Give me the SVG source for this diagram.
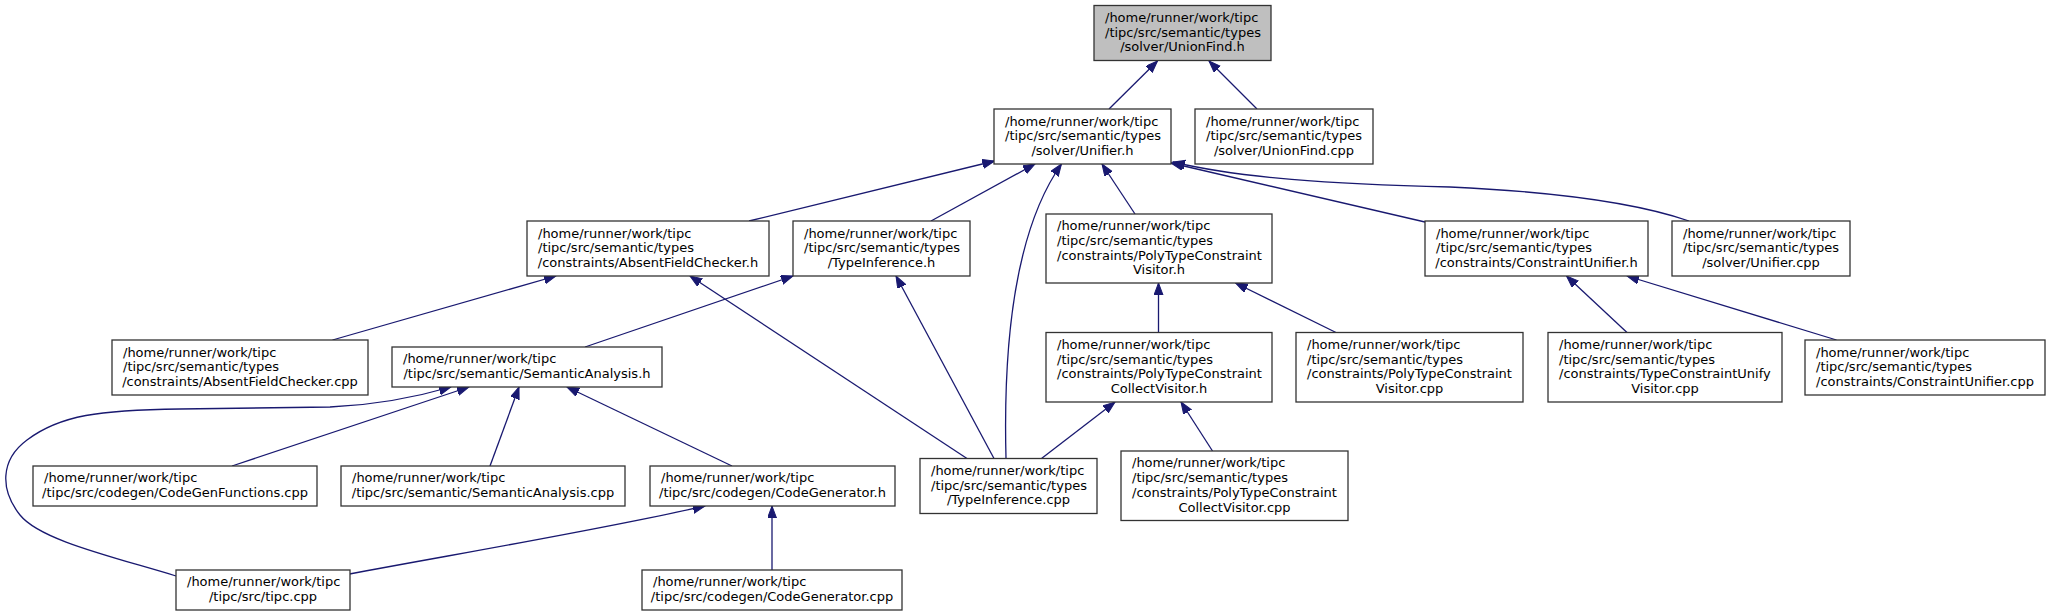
<svg xmlns="http://www.w3.org/2000/svg" width="2049" height="616" viewBox="0 0 2049 616">
<style>
.n rect{fill:#fff;stroke:#333;stroke-width:1.3}
.n.root rect{fill:#bfbfbf}
.n text{font-family:"DejaVu Sans","Liberation Sans",sans-serif;font-size:13px;fill:#000}
.e path{fill:none;stroke:#191970;stroke-width:1.3;marker-end:url(#ah)}
.c{text-anchor:middle}
</style>
<defs>
<marker id="ah" markerWidth="13" markerHeight="10" refX="12" refY="4.5" orient="auto" markerUnits="userSpaceOnUse"><path d="M0,0 L12,4.5 L0,9 z" fill="#191970" stroke="#191970" stroke-width="1"/></marker>
</defs>
<rect width="2049" height="616" fill="#fff"/>
<g id="edges" class="e">
<path d="M1109,109 L1157.5,61"/>
<path d="M1257,109 L1209,61"/>
<path d="M749,221 L994.5,161"/>
<path d="M931,221 L1035,164"/>
<path d="M1006,458.5 C1003,340 1015,230 1061.5,164"/>
<path d="M1135,214 L1102,164"/>
<path d="M1425,222 L1171,163"/>
<path d="M1689,221 C1640,204 1560,192 1450,187 C1330,184 1240,178 1173,162"/>
<path d="M332.5,340 L556,276"/>
<path d="M967,458.5 L690,276"/>
<path d="M585,347 L793,276"/>
<path d="M994,458.5 L896,276"/>
<path d="M1158.5,332.5 L1158.5,283"/>
<path d="M1336,332.5 L1235.5,283"/>
<path d="M1627,332.5 L1566.5,276"/>
<path d="M1836.5,340 L1627,276"/>
<path d="M232,466 L469,387"/>
<path d="M490,466 L519,387"/>
<path d="M732,466 L567,387"/>
<path d="M176,576 C110,556 40,540 20,515 C0,490 0,460 27,440 C60,415 100,410 180,409 L330,407 C380,405 420,396 451,387"/>
<path d="M1041.5,458.5 L1115,402"/>
<path d="M1212.5,451 L1181,402"/>
<path d="M349.5,574 C450,555 600,530 705,506"/>
<path d="M772,570 L772,506"/>
</g>
<g id="n1" class="n root"><rect x="1094" y="5.5" width="177" height="55"/><text x="1105"><tspan y="22">/home/runner/work/tipc</tspan><tspan x="1105" y="36.7">/tipc/src/semantic/types</tspan><tspan class="c" x="1182.5" y="51.4">/solver/UnionFind.h</tspan></text></g>
<g id="n2" class="n"><rect x="994" y="109" width="177" height="55"/><text x="1005"><tspan y="125.5">/home/runner/work/tipc</tspan><tspan x="1005" y="140.2">/tipc/src/semantic/types</tspan><tspan class="c" x="1082.5" y="154.9">/solver/Unifier.h</tspan></text></g>
<g id="n3" class="n"><rect x="1195" y="109" width="178" height="55"/><text x="1206"><tspan y="125.5">/home/runner/work/tipc</tspan><tspan x="1206" y="140.2">/tipc/src/semantic/types</tspan><tspan class="c" x="1284" y="154.9">/solver/UnionFind.cpp</tspan></text></g>
<g id="n4" class="n"><rect x="527" y="221" width="242" height="55"/><text x="538"><tspan y="237.5">/home/runner/work/tipc</tspan><tspan x="538" y="252.2">/tipc/src/semantic/types</tspan><tspan class="c" x="648" y="266.9">/constraints/AbsentFieldChecker.h</tspan></text></g>
<g id="n5" class="n"><rect x="793" y="221" width="177" height="55"/><text x="804"><tspan y="237.5">/home/runner/work/tipc</tspan><tspan x="804" y="252.2">/tipc/src/semantic/types</tspan><tspan class="c" x="881.5" y="266.9">/TypeInference.h</tspan></text></g>
<g id="n6" class="n"><rect x="1046" y="214" width="226" height="69"/><text x="1057"><tspan y="230.1">/home/runner/work/tipc</tspan><tspan x="1057" y="244.8">/tipc/src/semantic/types</tspan><tspan x="1057" y="259.5">/constraints/PolyTypeConstraint</tspan><tspan class="c" x="1159" y="274.2">Visitor.h</tspan></text></g>
<g id="n7" class="n"><rect x="1425" y="221" width="223" height="55"/><text x="1436"><tspan y="237.5">/home/runner/work/tipc</tspan><tspan x="1436" y="252.2">/tipc/src/semantic/types</tspan><tspan class="c" x="1536.5" y="266.9">/constraints/ConstraintUnifier.h</tspan></text></g>
<g id="n8" class="n"><rect x="1672" y="221" width="178" height="55"/><text x="1683"><tspan y="237.5">/home/runner/work/tipc</tspan><tspan x="1683" y="252.2">/tipc/src/semantic/types</tspan><tspan class="c" x="1761" y="266.9">/solver/Unifier.cpp</tspan></text></g>
<g id="n9" class="n"><rect x="112" y="340" width="256" height="55"/><text x="123"><tspan y="356.5">/home/runner/work/tipc</tspan><tspan x="123" y="371.2">/tipc/src/semantic/types</tspan><tspan class="c" x="240" y="385.9">/constraints/AbsentFieldChecker.cpp</tspan></text></g>
<g id="n10" class="n"><rect x="392" y="347" width="270" height="40"/><text x="403"><tspan y="363.3">/home/runner/work/tipc</tspan><tspan class="c" x="527" y="378">/tipc/src/semantic/SemanticAnalysis.h</tspan></text></g>
<g id="n11" class="n"><rect x="1046" y="332.5" width="226" height="69.5"/><text x="1057"><tspan y="348.9">/home/runner/work/tipc</tspan><tspan x="1057" y="363.6">/tipc/src/semantic/types</tspan><tspan x="1057" y="378.3">/constraints/PolyTypeConstraint</tspan><tspan class="c" x="1159" y="393">CollectVisitor.h</tspan></text></g>
<g id="n12" class="n"><rect x="1296" y="332.5" width="227" height="69.5"/><text x="1307"><tspan y="348.9">/home/runner/work/tipc</tspan><tspan x="1307" y="363.6">/tipc/src/semantic/types</tspan><tspan x="1307" y="378.3">/constraints/PolyTypeConstraint</tspan><tspan class="c" x="1409.5" y="393">Visitor.cpp</tspan></text></g>
<g id="n13" class="n"><rect x="1548" y="332.5" width="234" height="69.5"/><text x="1559"><tspan y="348.9">/home/runner/work/tipc</tspan><tspan x="1559" y="363.6">/tipc/src/semantic/types</tspan><tspan x="1559" y="378.3">/constraints/TypeConstraintUnify</tspan><tspan class="c" x="1665" y="393">Visitor.cpp</tspan></text></g>
<g id="n14" class="n"><rect x="1805" y="340" width="240" height="55"/><text x="1816"><tspan y="356.5">/home/runner/work/tipc</tspan><tspan x="1816" y="371.2">/tipc/src/semantic/types</tspan><tspan class="c" x="1925" y="385.9">/constraints/ConstraintUnifier.cpp</tspan></text></g>
<g id="n15" class="n"><rect x="33" y="466" width="284" height="40"/><text x="44"><tspan y="482.3">/home/runner/work/tipc</tspan><tspan class="c" x="175" y="497">/tipc/src/codegen/CodeGenFunctions.cpp</tspan></text></g>
<g id="n16" class="n"><rect x="341" y="466" width="284" height="40"/><text x="352"><tspan y="482.3">/home/runner/work/tipc</tspan><tspan class="c" x="483" y="497">/tipc/src/semantic/SemanticAnalysis.cpp</tspan></text></g>
<g id="n17" class="n"><rect x="650" y="466" width="245" height="40"/><text x="661"><tspan y="482.3">/home/runner/work/tipc</tspan><tspan class="c" x="772.5" y="497">/tipc/src/codegen/CodeGenerator.h</tspan></text></g>
<g id="n18" class="n"><rect x="920" y="458.5" width="177" height="55"/><text x="931"><tspan y="475">/home/runner/work/tipc</tspan><tspan x="931" y="489.7">/tipc/src/semantic/types</tspan><tspan class="c" x="1008.5" y="504.4">/TypeInference.cpp</tspan></text></g>
<g id="n19" class="n"><rect x="1121" y="451" width="227" height="69.5"/><text x="1132"><tspan y="467.4">/home/runner/work/tipc</tspan><tspan x="1132" y="482.1">/tipc/src/semantic/types</tspan><tspan x="1132" y="496.8">/constraints/PolyTypeConstraint</tspan><tspan class="c" x="1234.5" y="511.5">CollectVisitor.cpp</tspan></text></g>
<g id="n20" class="n"><rect x="176" y="570" width="174" height="40"/><text x="187"><tspan y="586.3">/home/runner/work/tipc</tspan><tspan class="c" x="263" y="601">/tipc/src/tipc.cpp</tspan></text></g>
<g id="n21" class="n"><rect x="642" y="570" width="260" height="40"/><text x="653"><tspan y="586.3">/home/runner/work/tipc</tspan><tspan class="c" x="772" y="601">/tipc/src/codegen/CodeGenerator.cpp</tspan></text></g>
</svg>
